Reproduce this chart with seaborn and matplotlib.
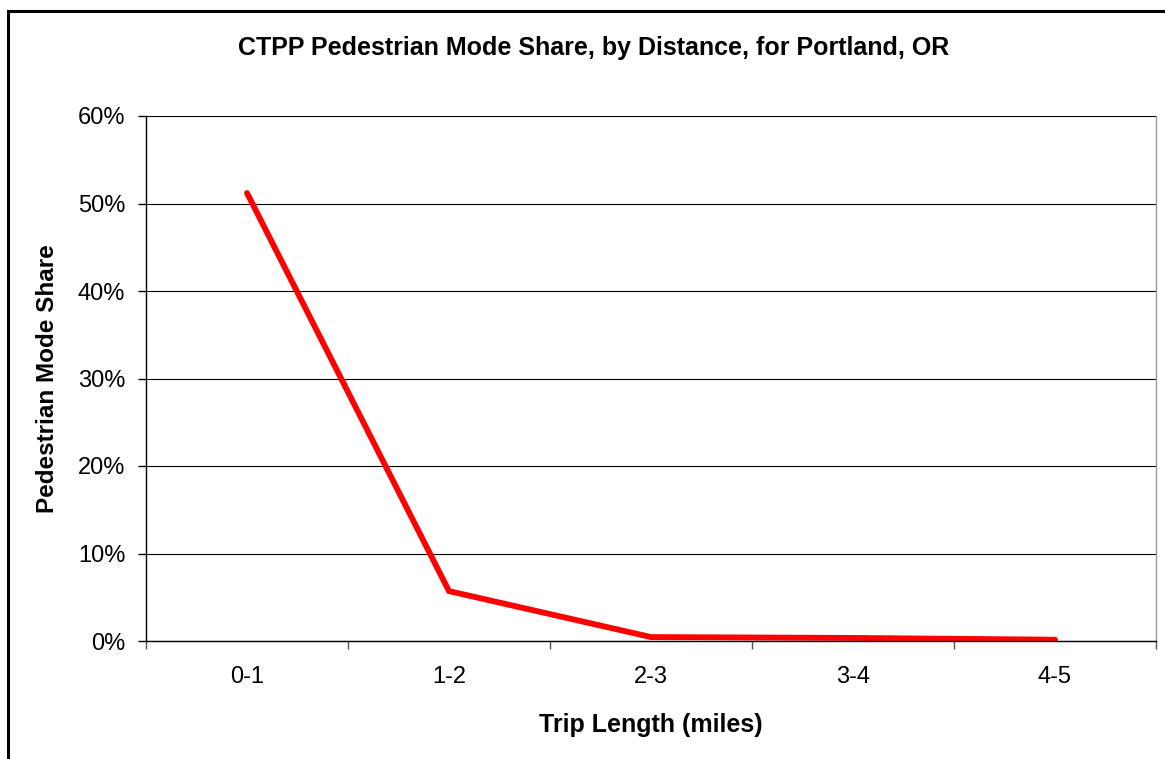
import matplotlib
matplotlib.use("Agg")
import matplotlib.pyplot as plt
import seaborn as sns
import pandas as pd
from matplotlib.patches import Rectangle
from matplotlib.ticker import FixedLocator, PercentFormatter

categories = ["0-1", "1-2", "2-3", "3-4", "4-5"]
shares = [51.2, 5.7, 0.45, 0.35, 0.15]
yticks = [0, 10, 20, 30, 40, 50, 60]

title = "CTPP Pedestrian Mode Share, by Distance, for Portland, OR"
xlabel = "Trip Length (miles)"
ylabel = "Pedestrian Mode Share"

sns.set_theme(style="white")
plt.rcParams["font.family"] = ["Liberation Sans", "DejaVu Sans"]
plt.rcParams["text.color"] = "black"
plt.rcParams["axes.labelcolor"] = "black"
plt.rcParams["xtick.color"] = "black"
plt.rcParams["ytick.color"] = "black"

df = pd.DataFrame({"dist": categories, "share": shares})

fig = plt.figure(figsize=(11.65, 7.59), dpi=100)
ax = fig.add_axes([146 / 1165, 1 - 641 / 759, (1156 - 146) / 1165, (641 - 116) / 759])

sns.lineplot(data=df, x="dist", y="share", ax=ax, color="#ff0000", linewidth=4.2,
             sort=False, solid_capstyle="round", solid_joinstyle="miter")

ax.set_xlim(-0.5, len(categories) - 0.5)
ax.set_ylim(0, 60)
ax.set_yticks(yticks)
ax.yaxis.set_major_formatter(PercentFormatter(decimals=0))
ax.grid(axis="y", color="black", linewidth=0.8)
ax.set_axisbelow(True)

ax.set_xticks(range(len(categories)))
ax.set_xticklabels(categories)
ax.xaxis.set_minor_locator(FixedLocator([i - 0.5 for i in range(len(categories) + 1)]))
ax.tick_params(axis="x", which="major", length=0, pad=18, labelsize=17)
ax.tick_params(axis="x", which="minor", length=6, width=1, color="#555555", bottom=True)
ax.tick_params(axis="y", which="major", length=6, width=1, color="black", left=True, pad=9, labelsize=17)

for s in ["left", "bottom"]:
    ax.spines[s].set_color("black")
    ax.spines[s].set_linewidth(1)
ax.spines["right"].set_color("#999999")
ax.spines["right"].set_linewidth(1)
ax.spines["top"].set_visible(False)

ax.set_xlabel(xlabel, fontsize=18, fontweight="bold")
ax.xaxis.set_label_coords(0.5, -(725 - 641) / (641 - 116))
ax.xaxis.label.set_va("center")
ax.set_ylabel(ylabel, fontsize=17.5, fontweight="bold")
ax.yaxis.set_label_coords(-(146 - 48) / (1156 - 146), 0.5)
ax.yaxis.label.set_va("center")
fig.text(594 / 1165, 1 - 48 / 759, title, ha="center", va="center", fontsize=18, fontweight="bold")

fig.patches.append(Rectangle((8 / 1165, -0.1), 1.2, 1 - 11 / 759 + 0.1, transform=fig.transFigure,
                             fill=False, edgecolor="black", linewidth=2.2))

fig.savefig("out.png", dpi=100, facecolor="white")
